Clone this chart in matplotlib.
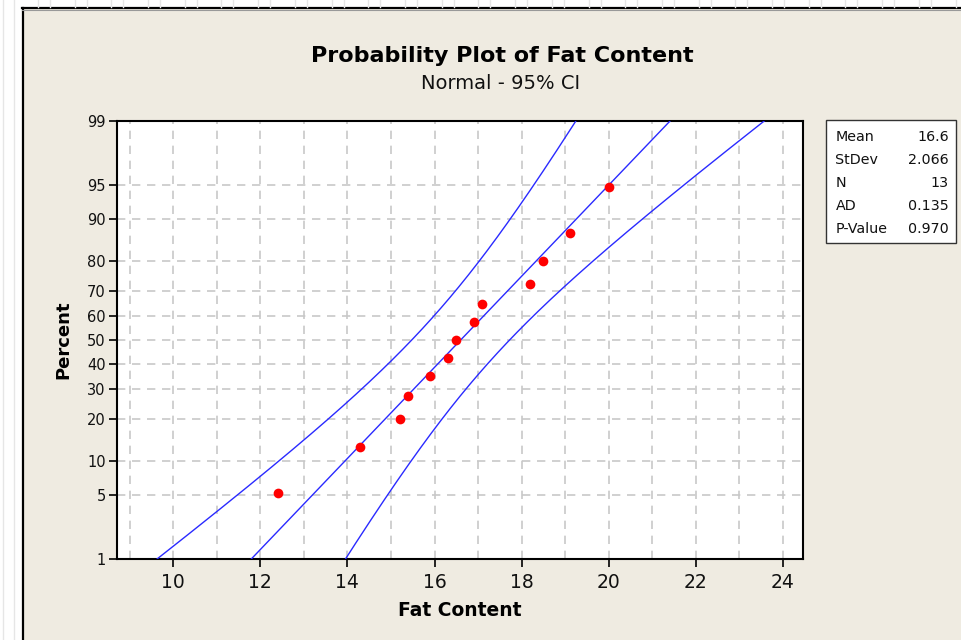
import matplotlib
matplotlib.use("Agg")
import matplotlib.pyplot as plt
from matplotlib.patches import Rectangle
from matplotlib.lines import Line2D
from statistics import NormalDist
import numpy as np

# fat content measurements (sorted)
fat = [12.4, 14.3, 15.2, 15.4, 15.9, 16.3, 16.5, 16.9, 17.1, 18.2, 18.5, 19.1, 20.0]

pct_ticks = [1, 5, 10, 20, 30, 40, 50, 60, 70, 80, 90, 95, 99]
x_ticks = [10, 12, 14, 16, 18, 20, 22, 24]
x_grid = list(range(9, 25))
ad_stat = "0.135"
p_value = "0.970"

W, H = 962, 640
BG = "#EFEBE1"
FONT = "DejaVu Sans"

nd = NormalDist()
n = len(fat)
mean = float(np.mean(fat))
sd = float(np.std(fat, ddof=1))

# median ranks (Benard) on the normal probability scale
ranks = [(i - 0.3) / (n + 0.4) for i in range(1, n + 1)]
z_pts = [nd.inv_cdf(r) for r in ranks]

# fitted line and 95% confidence band for the percentiles
zc = nd.inv_cdf(0.975)
z_line = np.linspace(nd.inv_cdf(0.003), nd.inv_cdf(0.997), 300)
x_fit = mean + z_line * sd
se = sd * np.sqrt(1.0 / n + z_line ** 2 / (2.0 * n))
x_lo = x_fit - zc * se
x_hi = x_fit + zc * se


def fx(x):
    return x / W


def fy(y):
    return 1 - y / H


fig = plt.figure(figsize=(W / 100, H / 100), dpi=100, facecolor="white")

# window frame
fig.patches.append(Rectangle((fx(22), 0), 1, fy(8), transform=fig.transFigure,
                             facecolor=BG, edgecolor="none", zorder=-5))
fig.add_artist(Line2D([fx(22), 1], [fy(8), fy(8)], color="black", lw=1.6, zorder=-4))
fig.add_artist(Line2D([fx(22.5), fx(22.5)], [0, fy(8)], color="black", lw=1.6, zorder=-4))
fig.add_artist(Line2D([fx(22), 1], [fy(9.5), fy(9.5)], color="#999999", lw=0.8, zorder=-4))
for xs in [3, 13.5]:
    fig.add_artist(Line2D([fx(xs), fx(xs)], [0, 1], color="#E6E6E6", lw=1.0, zorder=-4))
for k in range(26):
    for xs in (38 + 36.7 * k, 50 + 36.7 * k):
        fig.add_artist(Line2D([fx(xs), fx(xs)], [fy(0), fy(7)], color="#E6E6E6",
                              lw=1.0, zorder=-4))

ax = fig.add_axes([fx(117), fy(559), (803 - 117) / W, (559 - 121) / H])
ax.set_zorder(2)
ax.set_facecolor("white")

ax.plot(x_lo, z_line, color="#2a2aff", lw=1.0, zorder=3)
ax.plot(x_fit, z_line, color="#2a2aff", lw=1.0, zorder=3)
ax.plot(x_hi, z_line, color="#2a2aff", lw=1.0, zorder=3)
ax.plot(fat, z_pts, "o", color="red", markersize=7, markeredgewidth=0, zorder=4)

ax.set_xlim(8.71, 24.46)
ax.set_ylim(nd.inv_cdf(0.01), nd.inv_cdf(0.99))

ax.set_xticks(x_ticks)
ax.set_xticks(x_grid, minor=True)
ax.set_xticklabels([str(t) for t in x_ticks], fontsize=13.5, family=FONT, color="#111111")
ax.set_yticks([nd.inv_cdf(p / 100) for p in pct_ticks])
ax.set_yticklabels([str(p) for p in pct_ticks], fontsize=10.5, family=FONT, color="#111111")

ax.tick_params(axis="x", which="major", length=6, width=1.2, pad=4)
ax.tick_params(axis="x", which="minor", length=0)
ax.tick_params(axis="y", length=6, width=1.2, pad=2)

ax.grid(True, axis="x", which="both", color="#C8C8C8", ls=(0, (5, 4)), lw=1.2)
ax.grid(True, axis="y", which="major", color="#C8C8C8", ls=(0, (5, 4)), lw=1.2)
ax.set_axisbelow(True)
for sp in ax.spines.values():
    sp.set_linewidth(1.5)
    sp.set_color("black")

# titles and axis labels
fig.text(fx(502), fy(62), "Probability Plot of Fat Content", ha="center", va="baseline",
         fontsize=16, fontweight="bold", family=FONT)
fig.text(fx(501), fy(89), "Normal - 95% CI", ha="center", va="baseline",
         fontsize=14, family=FONT, color="#111111")
fig.text(fx(460), fy(616.5), "Fat Content", ha="center", va="baseline",
         fontsize=13.5, fontweight="bold", family=FONT)
fig.text(fx(63), fy(340), "Percent", ha="center", va="center", rotation=90,
         fontsize=13, fontweight="bold", family=FONT)

# summary statistics box
fig.patches.append(Rectangle((fx(826), fy(243)), (956 - 826) / W, (243 - 120) / H,
                             transform=fig.transFigure, facecolor="white",
                             edgecolor="#333333", lw=1.0, zorder=2))
stat_names = ["Mean", "StDev", "N", "AD", "P-Value"]
stat_values = [f"{mean:.1f}", f"{sd:.3f}", str(n), ad_stat, p_value]
for i, (name, val) in enumerate(zip(stat_names, stat_values)):
    yb = 140.7 + i * 23.1
    fig.text(fx(835.5), fy(yb), name, ha="left", va="baseline", fontsize=10.3,
             family=FONT, color="#111111", zorder=3)
    fig.text(fx(949), fy(yb), val, ha="right", va="baseline", fontsize=10.3,
             family=FONT, color="#111111", zorder=3)

fig.savefig("out.png", dpi=100, facecolor="white")
